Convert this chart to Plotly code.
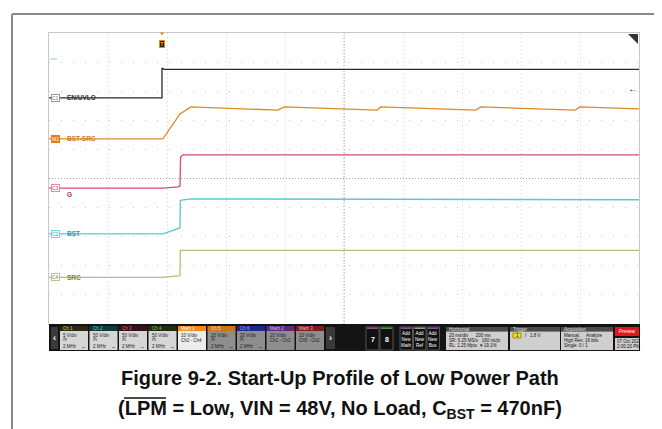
import plotly.graph_objects as go

W, H = 662, 429

# time in ms (20 ms/div, 10 div), amplitude in screen divisions (0..10)
en_t = [0, 38.3, 38.3, 39.0, 200]
en_v = [7.77, 7.77, 8.80, 8.75, 8.75]

bst_src_t = [0, 38.6, 44.4, 48.1, 77.6, 79.7, 111.2, 112.5, 144.7, 146.4, 178.3, 180.0, 200]
bst_src_v = [6.36, 6.36, 7.22, 7.46, 7.35, 7.46, 7.35, 7.46, 7.35, 7.46, 7.35, 7.46, 7.39]

g_t = [0, 38.6, 43.7, 44.4, 44.6, 45.3, 200]
g_v = [4.67, 4.67, 4.71, 4.74, 5.72, 5.81, 5.81]

bst_t = [0, 38.6, 44.4, 44.5, 48.1, 200]
bst_v = [3.10, 3.10, 3.30, 4.25, 4.30, 4.27]

src_t = [0, 38.6, 44.4, 44.5, 200]
src_v = [1.60, 1.60, 1.66, 2.53, 2.53]

trigger_t = 38.3

# status bar texts
ch_names = ["Ch 1", "Ch 2", "Ch 3", "Ch 4", "Math 1", "Ch 5", "Ch 6", "Math 2", "Math 3"]
ch_scale = ["5 V/div", "50 V/div", "50 V/div", "50 V/div", "10 V/div",
            "20 V/div", "20 V/div", "20 V/div", "10 V/div"]
ch_sub = ["2 MHz", "2 MHz", "2 MHz", "2 MHz", "Ch2 - Ch4",
          "2 MHz", "2 MHz", "Ch1 - Ch2", "Ch5 - Ch2"]

FONT = "Liberation Sans, Arial, sans-serif"


def px(x):
    return x / W


def py(y):
    return 1 - y / H


fig = go.Figure()


def rect(x0, y0, x1, y1, fill, line=None):
    fig.add_shape(type="rect", xref="paper", yref="paper",
                  x0=px(x0), x1=px(x1), y0=py(y1), y1=py(y0),
                  fillcolor=fill, layer="above",
                  line=dict(width=1 if line else 0, color=line or fill))


def text(x, y, s, size, color, anchor="left", **kw):
    fig.add_annotation(xref="paper", yref="paper", x=px(x), y=py(y), text=s,
                       showarrow=False, xanchor=anchor, yanchor="middle",
                       borderpad=0, font=dict(size=size, color=color, family=FONT), **kw)


def line(x0, y0, x1, y1, color, width=1, dash="solid"):
    fig.add_shape(type="line", xref="paper", yref="paper",
                  x0=px(x0), x1=px(x1), y0=py(y0), y1=py(y1),
                  line=dict(color=color, width=width, dash=dash), layer="above")


traces = [
    (en_t, en_v, "EN/UVLO", "#2a2a2a"),
    (bst_src_t, bst_src_v, "BST-SRC", "#dc8a26"),
    (g_t, g_v, "G", "#d8477a"),
    (bst_t, bst_v, "BST", "#5cc6cc"),
    (src_t, src_v, "SRC", "#b3c07c"),
]
for t, v, name, col in traces:
    fig.add_trace(go.Scatter(x=t, y=v, mode="lines", name=name,
                             line=dict(color=col, width=1.3), hoverinfo="skip"))

# centre graticule
fig.add_shape(type="line", xref="x", yref="y", x0=100, x1=100, y0=0, y1=10,
              line=dict(color="#a0a0a0", width=1, dash="1px,2px"))
fig.add_shape(type="line", xref="x", yref="y", x0=0, x1=200, y0=5, y1=5,
              line=dict(color="#a0a0a0", width=1, dash="1px,2px"))

# channel badges + labels
badges = [("C1", "#ffffff", "#9a9a9a", "#777", "EN/UVLO", "#333333", 0),
          ("M1", "#e07f16", "#e07f16", "#fff", "BST-SRC", "#c8781a", 0),
          ("C3", "#ffffff", "#e58aa6", "#c04060", "G", "#b03050", -6),
          ("C2", "#ffffff", "#7fd0d6", "#3aa0aa", "BST", "#2a9aa6", 0),
          ("C4", "#ffffff", "#b8c88a", "#6a8a2a", "SRC", "#6a8a2a", 0)]
for (t, v, _, _), (b, bg, bc, tc, lab, lc, ys) in zip(traces, badges):
    fig.add_annotation(xref="paper", yref="y", x=px(43), y=v[0], text=b, showarrow=False,
                       xanchor="left", yanchor="middle", bgcolor=bg, bordercolor=bc,
                       borderwidth=1, borderpad=0, font=dict(size=5, color=tc, family=FONT))
    fig.add_annotation(xref="paper", yref="y", x=px(57), y=v[0], yshift=ys, text="<b>" + lab + "</b>",
                       showarrow=False, xanchor="left", yanchor="middle",
                       font=dict(size=6.5, color=lc, family=FONT))

# trigger marker
fig.add_annotation(xref="x", yref="paper", x=trigger_t, y=py(32), text="<b>T</b>", showarrow=False,
                   bgcolor="#2b2010", bordercolor="#e08a1e", borderwidth=1, borderpad=0,
                   font=dict(size=6, color="#e08a1e", family=FONT))
fig.add_shape(type="path", xref="paper", yref="paper",
              path=f"M {px(152)} {py(24.5)} L {px(156)} {py(24.5)} L {px(154)} {py(27.5)} Z",
              fillcolor="#e08a1e", line=dict(width=0))

# top-right corner marker and arrow
fig.add_shape(type="path", xref="paper", yref="paper",
              path=f"M {px(620)} {py(26)} L {px(630)} {py(26)} L {px(630)} {py(36)} Z",
              fillcolor="#333", line=dict(width=0))
text(631, 80, "<b>←</b>", 10, "#111", anchor="right")
line(42, 51, 49, 51, "#8fd3d6", 1)

# outer frame
line(4, 6, 662, 6, "#8a8a8a", 2)
line(4, 6, 4, 429, "#8a8a8a", 2)

# status bar
rect(41, 316, 632, 343, "#141414")
rect(43, 319, 50, 341, "#3a3a3a")
text(46.5, 330, "<b>‹</b>", 9, "#ffffff", anchor="center")
hdr_bg = ["#2a2a10", "#0f3a3c", "#3a1018", "#1c3010", "#f08c1a",
          "#c8761e", "#1a2a8a", "#5a2a7a", "#7a1e1e"]
hdr_fg = ["#d8d84a", "#5cd0d6", "#e0608a", "#8cc63f", "#ffffff",
          "#ffe0b0", "#a0b0ff", "#e0b0ff", "#ffb0b0"]
body_bg = ["#d6d6d6"] * 4 + ["#ececec"] + ["#8e8e8e"] * 4
for i, name in enumerate(ch_names):
    x0 = 52 + i * 29.5
    rect(x0, 318, x0 + 28, 323, hdr_bg[i])
    rect(x0, 323, x0 + 28, 342, body_bg[i])
    text(x0 + 2, 320.5, name, 4.5, hdr_fg[i])
    text(x0 + 2, 327, ch_scale[i], 4.5, "#222")
    if ch_sub[i].endswith("MHz"):
        text(x0 + 2, 331.5, "/h", 4.5, "#222")
        text(x0 + 2, 338.5, ch_sub[i], 4.5, "#222")
        text(x0 + 26, 338.5, "~", 5, "#222", anchor="right")
    else:
        text(x0 + 2, 332, ch_sub[i], 4.5, "#222")
rect(318, 319, 327, 341, "#3a3a3a")
text(322.5, 330, "<b>›</b>", 9, "#ffffff", anchor="center")

for x0, lab, stripe in [(358, "7", "#a04a8a"), (372, "8", "#3aa04a")]:
    rect(x0, 319, x0 + 13, 342, "#111", "#555")
    rect(x0 + 1, 319.5, x0 + 12, 321, stripe)
    text(x0 + 6.5, 331, "<b>" + lab + "</b>", 7, "#fff", anchor="center")
for x0, lab, stripe in [(392, "Math", "#8a4aa0"), (405.5, "Ref", "#999"), (419, "Bus", "#8a4aa0")]:
    rect(x0, 319, x0 + 12.5, 342, "#111", "#555")
    rect(x0 + 1, 319.5, x0 + 11.5, 321, stripe)
    text(x0 + 6.25, 331, "Add<br>New<br>" + lab, 4.5, "#fff", anchor="center")

panels = [
    (438, 500, "Horizontal", ["20 ms/div      200 ms", "SR: 6.25 MS/s   160 ns/pt", "RL: 1.25 Mpts  ▾ 19.1%"]),
    (502, 552, "Trigger", []),
    (553, 605, "Acquisition", ["Manual,     Analyze", "High Res: 16 bits", "Single: 0 / 1"]),
]
for x0, x1, head, rows in panels:
    rect(x0, 319, x1, 323.5, "#4a4a4a")
    rect(x0, 323.5, x1, 342, "#cfcfcf")
    text(x0 + 2, 321.2, head, 4.5, "#e0e0e0")
    for k, r in enumerate(rows):
        text(x0 + 2, 327.5 + k * 5, r, 4.5, "#111")
rect(505, 325, 513, 330, "#f0e020", "#a09000")
text(509, 327.5, "1", 4.5, "#111", anchor="center")
text(516, 327.5, "/   1.8 V", 4.5, "#111")
rect(607, 319, 631, 328, "#e8141c")
text(619, 323.5, "Preview", 4.5, "#fff", anchor="center")
rect(607, 330, 631, 342, "#d0d0d0")
text(608, 333.5, "07 Oct 202", 4.5, "#111")
text(608, 338.5, "2:00:20 PM", 4.5, "#111")

# caption
fig.add_annotation(xref="paper", yref="paper", x=px(332), y=py(370),
                   text="<b>Figure 9-2. Start-Up Profile of Low Power Path</b>",
                   showarrow=False, xanchor="center", yanchor="middle",
                   font=dict(size=20, color="#111", family=FONT))
fig.add_annotation(xref="paper", yref="paper", x=px(332), y=py(401),
                   text="<b>(LPM = Low, VIN = 48V, No Load, C<sub>BST</sub> = 470nF)</b>",
                   showarrow=False, xanchor="center", yanchor="middle",
                   font=dict(size=20, color="#111", family=FONT))
line(116, 390, 158, 390, "#111", 1.5)

fig.update_layout(
    width=W, height=H,
    margin=dict(l=0, r=0, t=0, b=0),
    paper_bgcolor="white", plot_bgcolor="white",
    showlegend=False,
    xaxis=dict(domain=[px(41), px(631)], range=[0, 200], dtick=20,
               showgrid=True, gridcolor="#d4d4d4", griddash="1px,3px",
               showticklabels=False, ticks="", zeroline=False,
               showline=True, mirror=True, linecolor="#c8c8c8", linewidth=1),
    yaxis=dict(domain=[py(316), py(25)], range=[0, 10], dtick=1,
               showgrid=True, gridcolor="#c8c8c8", griddash="1px,11px",
               showticklabels=False, ticks="", zeroline=False,
               showline=True, mirror=True, linecolor="#c8c8c8", linewidth=1),
)

fig.write_html("out.html")
